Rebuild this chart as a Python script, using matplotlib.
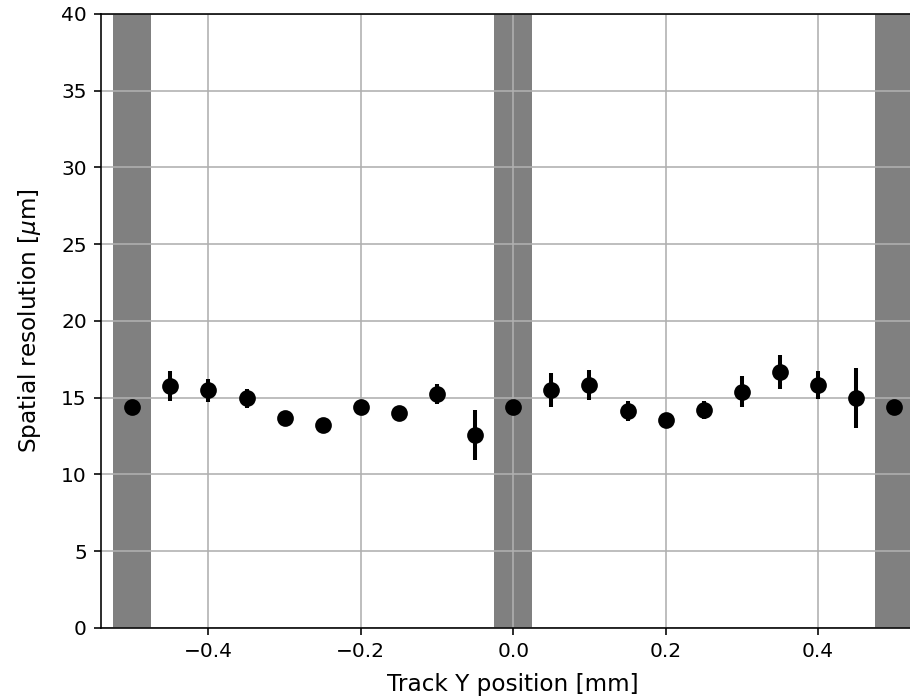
import matplotlib.pyplot as plt

# Track Y position [mm]
positions = [-0.50, -0.45, -0.40, -0.35, -0.30, -0.25, -0.20, -0.15, -0.10, -0.05,
             0.00, 0.05, 0.10, 0.15, 0.20, 0.25, 0.30, 0.35, 0.40, 0.45, 0.50]
# spatial resolution [um] and its uncertainty
resolution = [14.42, 15.77, 15.50, 14.96, 13.66, 13.22, 14.42, 14.03, 15.23, 12.57,
              14.42, 15.50, 15.83, 14.14, 13.55, 14.20, 15.40, 16.70, 15.83, 14.96, 14.42]
resolution_err = [0.0, 0.98, 0.75, 0.6, 0.35, 0.35, 0.35, 0.35, 0.65, 1.6,
                  0.0, 1.1, 1.0, 0.65, 0.35, 0.6, 1.0, 1.1, 0.9, 1.95, 0.0]

# dead regions between pads
dead_centers = [-0.5, 0.0, 0.5]
dead_width = 0.05

dpi = 145
fig = plt.figure(figsize=(910 / dpi, 698 / dpi), dpi=dpi)
ax = fig.add_axes([0.111, 0.1003, 0.906, 0.8797])

for c in dead_centers:
    ax.axvspan(c - dead_width / 2, c + dead_width / 2, color='gray', lw=0)

ax.errorbar(positions, resolution, yerr=resolution_err, fmt='o', color='black',
            markersize=7.3, elinewidth=2.0, capsize=0, zorder=3)

ax.set_xlim(-0.541, 0.541)
ax.set_ylim(0, 40)
ax.grid(True)
ax.set_xlabel("Track Y position [mm]", fontsize=11.5, labelpad=6)
ax.set_ylabel(r"Spatial resolution [$\mu$m]", fontsize=11.5, labelpad=9)

plt.savefig("out.png", dpi=dpi)
